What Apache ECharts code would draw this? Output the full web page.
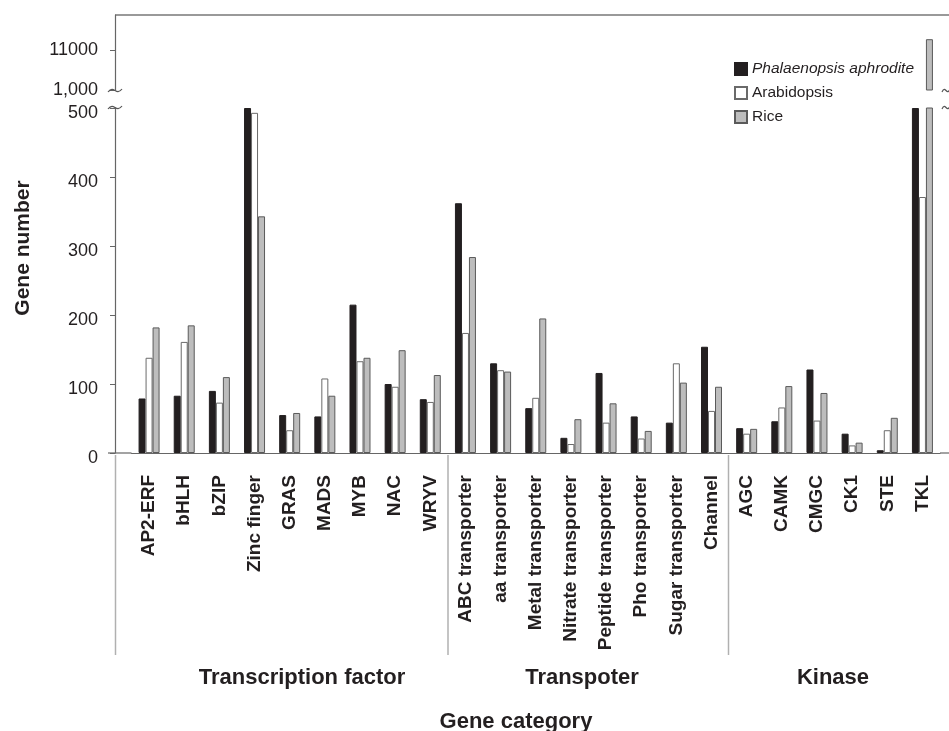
<!DOCTYPE html>
<html>
<head>
<meta charset="utf-8">
<script src="https://cdn.jsdelivr.net/npm/echarts@6/dist/echarts.min.js"></script>
<style>html,body{margin:0;padding:0;background:#fff;}#chart{width:949px;height:731px;}</style>
</head>
<body>
<div id="chart"></div>
<script>
const categories = ['AP2-ERF','bHLH','bZIP','Zinc finger','GRAS','MADS','MYB','NAC','WRYV',
  'ABC transporter','aa transporter','Metal transporter','Nitrate transporter','Peptide transporter','Pho transporter','Sugar transporter','Channel',
  'AGC','CAMK','CMGC','CK1','STE','TKL'];
const seriesNames = ['Phalaenopsis aphrodite','Arabidopsis','Rice'];
const phalaenopsis = [79,83,90,500,55,53,215,100,78, 362,130,65,22,116,53,44,154, 36,46,121,28,4,500];
const arabidopsis = [138,161,73,493,33,108,133,96,74, 174,120,80,13,44,21,130,61, 28,66,47,11,33,371];
const rice = [182,185,110,343,58,83,138,149,113, 284,118,195,49,72,32,102,96, 35,97,87,15,51,1127];
const groupNames = ['Transcription factor','Transpoter','Kinase'];
const lowerTicks = [0,100,200,300,400,500];
const upperTickValues = [1000,1100];
const upperTickLabels = ['1,000','11000'];
const xTitle = 'Gene category';
const yTitle = 'Gene number';

const FONT = '"Liberation Sans", Arial, sans-serif';
const TXT = '#231f20';
const styles = [
  {color:'#231f20', borderColor:'#231f20', borderWidth:1},
  {color:'#ffffff', borderColor:'#6a6a6a', borderWidth:1},
  {color:'#bdbdbd', borderColor:'#5a5a5a', borderWidth:1}
];
const dataSets = [phalaenopsis, arabidopsis, rice];

const chart = echarts.init(document.getElementById('chart'), null, {renderer:'canvas'});

const series = [];
[0,1].forEach(g => {
  dataSets.forEach((d, i) => {
    series.push({
      type:'bar', name: seriesNames[i], data: d,
      xAxisIndex: g, yAxisIndex: g,
      barWidth: 7, barGap: '0%', clip: true,
      itemStyle: styles[i], animation: false, silent: true
    });
  });
});

const gridLeft = 131.5, gridWidth = 808.5;
function bez(x, y, w) {
  return {type:'bezierCurve', silent:true, z:100,
    shape:{x1:x, y1:y+2, x2:x+w, y2:y-1, cpx1:x+w*0.45, cpy1:y-6, cpx2:x+w*0.55, cpy2:y+7},
    style:{stroke:'#555', lineWidth:1.2, fill:null}};
}
function line(x1,y1,x2,y2,color,w){
  return {type:'line', silent:true, shape:{x1,y1,x2,y2}, style:{stroke:color, lineWidth:w}};
}
function text(t, x, y, size, rot){
  return {type:'text', silent:true, x, y, rotation: rot||0,
    style:{text:t, font:'bold '+size+'px '+FONT, fill:TXT, textAlign:'center', textVerticalAlign:'middle'}};
}

chart.setOption({
  animation:false,
  backgroundColor:'#fff',
  textStyle:{fontFamily:FONT},
  grid:[
    {left:gridLeft, top:108, width:gridWidth, height:345},
    {left:gridLeft, top:15, width:gridWidth, height:75}
  ],
  legend:{
    data: seriesNames, orient:'vertical', left:729, top:56,
    itemWidth:12, itemHeight:12, itemGap:8, icon:'rect',
    textStyle:{fontSize:15.5, color:TXT, fontFamily:FONT, rich:{i:{fontStyle:'italic', fontSize:15.5, color:TXT, fontFamily:FONT}}},
    formatter: n => n === seriesNames[0] ? '{i|' + n + '}' : n,
    selectedMode:false
  },
  xAxis:[
    {gridIndex:0, type:'category', data:categories,
      axisLine:{lineStyle:{color:'#666', width:1.2}},
      axisTick:{alignWithLabel:true, length:4, lineStyle:{color:'#666'}},
      axisLabel:{interval:0, rotate:90, fontSize:19, fontWeight:'bold', color:TXT, margin:22, fontFamily:FONT}},
    {gridIndex:1, type:'category', data:categories, show:false}
  ],
  yAxis:[
    {gridIndex:0, type:'value', min:lowerTicks[0], max:lowerTicks[lowerTicks.length-1], interval:100, offset:16.5,
      axisLine:{show:true, lineStyle:{color:'#666', width:1.2}},
      axisTick:{show:true, length:5, lineStyle:{color:'#666'}},
      splitLine:{show:false},
      axisLabel:{fontSize:18, color:TXT, margin:17, fontFamily:FONT, verticalAlign:'top', lineHeight:10}},
    {gridIndex:1, type:'value', min:1000, max:1187.5, interval:100, offset:16.5,
      axisLine:{show:true, lineStyle:{color:'#666', width:1.2}},
      axisTick:{show:true, length:5, customValues: upperTickValues, lineStyle:{color:'#666'}},
      splitLine:{show:false},
      axisLabel:{fontSize:18, color:TXT, margin:17, fontFamily:FONT, customValues: upperTickValues,
        formatter: v => { const k = upperTickValues.indexOf(v); return k >= 0 ? upperTickLabels[k] : ''; }}}
  ],
  series: series,
  graphic: [
    line(115,15,949,15,'#777',1.5),
    line(108,453,gridLeft,453,'#666',1.2),
    line(gridLeft+gridWidth,453,949,453,'#666',1.2),
    line(115.5,455,115.5,655,'#b0b0b0',1.5),
    line(448,455,448,655,'#b0b0b0',1.5),
    line(728.5,455,728.5,655,'#b0b0b0',1.5),
    text(groupNames[0], 302, 678, 22),
    text(groupNames[1], 582, 678, 22),
    text(groupNames[2], 833, 678, 22),
    text(xTitle, 516, 722, 22),
    text(yTitle, 23, 248, 21, Math.PI/2),
    bez(108, 90, 14),
    bez(108, 107, 14),
    bez(942, 90, 8),
    bez(942, 107, 8)
  ]
});
</script>
</body>
</html>
